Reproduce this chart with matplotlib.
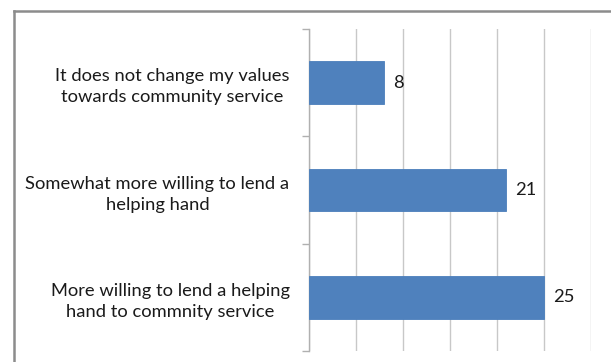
import matplotlib
matplotlib.use("Agg")
import matplotlib.pyplot as plt
from matplotlib.lines import Line2D

categories = [
    "It does not change my values\ntowards community service",
    "Somewhat more willing to lend a\nhelping hand",
    "More willing to lend a helping\nhand to commnity service",
]
values = [8, 21, 25]
x_max = 30
grid_step = 5

W, H = 611, 362
fig = plt.figure(figsize=(W / 100, H / 100), dpi=100)
fig.patch.set_facecolor("white")

# outer chart frame (top and left edges)
frame_col = "#8c8c8c"
fig.add_artist(Line2D([13.5 / W, 1.0], [1 - 10.5 / H, 1 - 10.5 / H],
                      transform=fig.transFigure, color=frame_col, lw=1.8))
fig.add_artist(Line2D([13.5 / W, 13.5 / W], [0.0, 1 - 10.5 / H],
                      transform=fig.transFigure, color=frame_col, lw=1.8))

left, right, top, bottom = 309, 591, 29, 351
ax = fig.add_axes([left / W, 1 - bottom / H, (right - left) / W, (bottom - top) / H])

ypos = list(range(len(categories)))
bars = ax.barh(ypos, values, height=0.4, color="#4F81BD", edgecolor="#4A7EBB",
               linewidth=0.6, zorder=3)

txt_font = ["Lato", "DejaVu Sans"]
for y, v in zip(ypos, values):
    ax.text(v + 0.95, y, str(v), va="center", ha="left",
            fontsize=13.2, family=txt_font, color="#1a1a1a")

ax.set_xlim(0, x_max)
ax.set_ylim(len(categories) - 0.5, -0.5)
ax.set_xticks(range(0, x_max + 1, grid_step))
ax.tick_params(axis="x", length=0, labelbottom=False)
ax.xaxis.grid(True, color="#c8c8c8", lw=1.0, zorder=0)

ax.set_yticks(ypos)
ax.set_yticklabels(categories, fontsize=13.2, family=txt_font, color="#1a1a1a",
                   ha="right", multialignment="center", linespacing=1.4)
ax.tick_params(axis="y", which="major", length=0, pad=14)
ax.set_yticks([i - 0.5 for i in range(len(categories) + 1)], minor=True)
ax.tick_params(axis="y", which="minor", length=5, color="#b0b0b0", width=1.0,
               direction="out")

for s in ["top", "right", "bottom"]:
    ax.spines[s].set_visible(False)
ax.spines["left"].set_color("#b0b0b0")
ax.spines["left"].set_linewidth(1.0)

fig.savefig("out.png", dpi=100, facecolor="white")
